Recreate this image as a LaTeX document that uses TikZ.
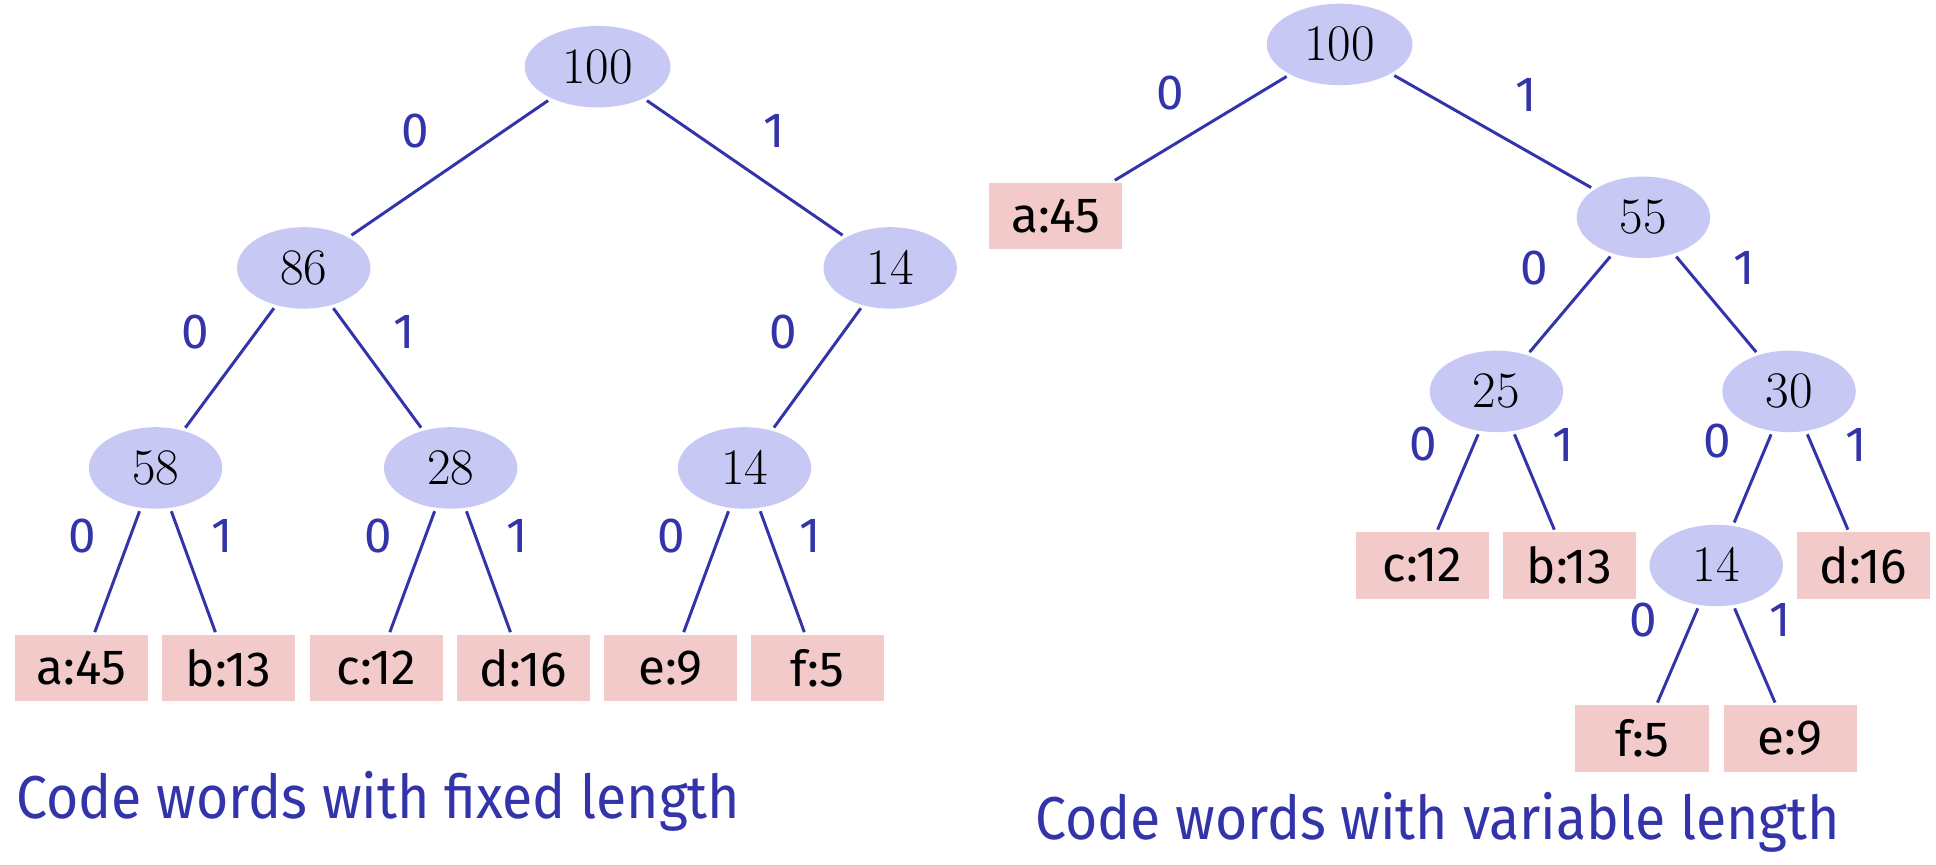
\documentclass[tikz,border=0pt]{standalone}
\usepackage{fontspec}
\setsansfont{Fira Sans}
\newfontfamily\capfont{Fira Sans}[FakeStretch=0.915]
\usetikzlibrary{shapes.geometric}
\definecolor{edgeblue}{RGB}{51,51,170}
\definecolor{inner}{RGB}{200,200,245}
\definecolor{leaf}{RGB}{242,202,202}
\tikzset{
  inode/.style={ellipse, fill=inner, draw=none, minimum width=54pt, minimum height=33pt, inner sep=0pt, outer sep=1.5pt, font=\fontsize{22}{26}\selectfont},
  rootnode/.style={inode, minimum width=59pt},
  lnode/.style={rectangle, fill=leaf, draw=none, minimum width=54pt, minimum height=27pt, inner sep=0pt, outer sep=1pt, font=\sffamily\fontsize{20}{24}\selectfont},
  edge/.style={draw=edgeblue, line width=1.2pt},
  elab/.style={text=edgeblue, font=\sffamily\fontsize{20}{24}\selectfont, inner sep=0pt},
  caption/.style={text=edgeblue, font=\capfont\fontsize{24.5}{28}\selectfont, inner sep=0pt, anchor=base west}
}
\begin{document}
\begin{tikzpicture}[x=0.5pt, y=-0.5pt]
\useasboundingbox (0,0) rectangle (1568,700);
% ---------- left tree ----------
\node[rootnode] (L100) at (484,54) {$100$};
\node[inode] (L86) at (246,217) {$86$};
\node[inode] (L14a) at (721,217) {$14$};
\node[inode] (L58) at (126,379) {$58$};
\node[inode] (L28) at (365,379) {$28$};
\node[inode] (L14b) at (603,379) {$14$};
\node[lnode] (La) at (66,541) {a:45};
\node[lnode] (Lb) at (185,541) {b:13};
\node[lnode] (Lc) at (305,541) {c:12};
\node[lnode] (Ld) at (424,541) {d:16};
\node[lnode] (Le) at (543,541) {e:9};
\node[lnode] (Lf) at (662,541) {f:5};
\draw[edge] (L100) -- (L86);
\draw[edge] (L100) -- (L14a);
\draw[edge] (L86) -- (L58);
\draw[edge] (L86) -- (L28);
\draw[edge] (L14a) -- (L14b);
\draw[edge] (L58) -- (La);
\draw[edge] (L58) -- (Lb);
\draw[edge] (L28) -- (Lc);
\draw[edge] (L28) -- (Ld);
\draw[edge] (L14b) -- (Le);
\draw[edge] (L14b) -- (Lf);
\node[elab] (l1) at (336,106) {0};
\node[elab] (l2) at (627,106) {1};
\node[elab] (l3) at (158,269) {0};
\node[elab] (l4) at (327,269) {1};
\node[elab] (l5) at (634,269) {0};
\node[elab] (l6) at (67,434) {0};
\node[elab] (l7) at (180,434) {1};
\node[elab] (l8) at (306,434) {0};
\node[elab] (l9) at (419,434) {1};
\node[elab] (l10) at (544,434) {0};
\node[elab] (l11) at (656,434) {1};
\node[caption] (capL) at (13,663) {Code words with fixed length};
% ---------- right tree ----------
\node[rootnode] (R100) at (1085,36) {$100$};
\node[lnode] (Ra) at (855,175) {a:45};
\node[inode] (R55) at (1331,176) {$55$};
\node[inode] (R25) at (1212,317) {$25$};
\node[inode] (R30) at (1449,317) {$30$};
\node[lnode] (Rc) at (1152,458) {c:12};
\node[lnode] (Rb) at (1271,458) {b:13};
\node[inode] (R14) at (1390,458) {$14$};
\node[lnode] (Rd) at (1509,458) {d:16};
\node[lnode] (Rf) at (1330,598) {f:5};
\node[lnode] (Re) at (1450,598) {e:9};
\draw[edge] (R100) -- (Ra);
\draw[edge] (R100) -- (R55);
\draw[edge] (R55) -- (R25);
\draw[edge] (R55) -- (R30);
\draw[edge] (R25) -- (Rc);
\draw[edge] (R25) -- (Rb);
\draw[edge] (R30) -- (R14);
\draw[edge] (R30) -- (Rd);
\draw[edge] (R14) -- (Rf);
\draw[edge] (R14) -- (Re);
\node[elab] (r1) at (948,75) {0};
\node[elab] (r2) at (1236,77) {1};
\node[elab] (r3) at (1243,217) {0};
\node[elab] (r4) at (1413,217) {1};
\node[elab] (r5) at (1153,360) {0};
\node[elab] (r6) at (1266,360) {1};
\node[elab] (r7) at (1391,357) {0};
\node[elab] (r8) at (1503,360) {1};
\node[elab] (r9) at (1331,502) {0};
\node[elab] (r10) at (1442,502) {1};
\node[caption] (capR) at (838,680) {Code words with variable length};
\end{tikzpicture}
\end{document}
